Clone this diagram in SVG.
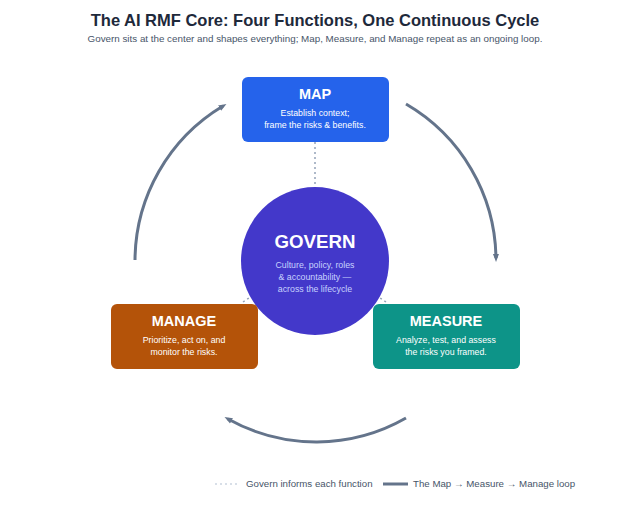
<svg xmlns="http://www.w3.org/2000/svg" width="631" height="505" viewBox="0 0 631 505">
<style>
text{font-family:"Liberation Sans",Arial,sans-serif;text-anchor:middle}
.t{font-weight:bold;font-size:14.5px;fill:#fff}
.s{font-size:8.8px;fill:#fff}
.g{font-size:8.8px;fill:#c7d2fe}
.arc{fill:none;stroke:#64748b;stroke-width:3;marker-end:url(#ah)}
.dot{stroke:#94a3b8;stroke-width:1.5;stroke-dasharray:2 3;fill:none}
</style>
<defs><marker id="ah" markerWidth="8" markerHeight="8" refX="4" refY="3" orient="auto" markerUnits="userSpaceOnUse" viewBox="0 0 8 6"><path d="M0,0L8,3L0,6z" fill="#64748b"/></marker></defs>
<rect width="631" height="505" fill="#fff"/>
<text x="315" y="26" style="font-size:16.5px;font-weight:bold;fill:#1e293b">The AI RMF Core: Four Functions, One Continuous Cycle</text>
<text x="315" y="42" style="font-size:9.8px;fill:#475569">Govern sits at the center and shapes everything; Map, Measure, and Manage repeat as an ongoing loop.</text>
<g id="connectors">
<path class="dot" d="M315,142V187"/>
<path class="dot" d="M243,302L252,296"/>
<path class="dot" d="M386,302L377,296"/>
<path class="arc" d="M406,104A181,181 0 0 1 496,258"/>
<path class="arc" d="M406,418A181,181 0 0 1 228,419"/>
<path class="arc" d="M135,260A181,181 0 0 1 223,106"/>
</g>
<g id="map"><rect x="242" y="77" width="147" height="65" rx="6" fill="#2563eb"/>
<text class="t" x="315" y="99">MAP</text>
<text class="s" x="315" y="116">Establish context;</text>
<text class="s" x="315" y="128">frame the risks &amp; benefits.</text></g>
<g id="govern"><circle cx="315" cy="261" r="74" fill="#4338ca"/>
<text class="t" x="315" y="248" style="font-size:18.7px">GOVERN</text>
<text class="g" x="315" y="268">Culture, policy, roles</text>
<text class="g" x="315" y="280">&amp; accountability —</text>
<text class="g" x="315" y="292">across the lifecycle</text></g>
<g id="manage"><rect x="111" y="304" width="147" height="65" rx="6" fill="#b45309"/>
<text class="t" x="184" y="326">MANAGE</text>
<text class="s" x="184" y="343">Prioritize, act on, and</text>
<text class="s" x="184" y="355">monitor the risks.</text></g>
<g id="measure"><rect x="373" y="304" width="147" height="65" rx="6" fill="#0d9488"/>
<text class="t" x="446" y="326">MEASURE</text>
<text class="s" x="446" y="343">Analyze, test, and assess</text>
<text class="s" x="446" y="355">the risks you framed.</text></g>
<g id="legend">
<path class="dot" d="M215,484H238" style="stroke:#cbd5e1"/>
<text x="246" y="487" style="font-size:9.7px;fill:#475569;text-anchor:start">Govern informs each function</text>
<path d="M383,484H408" stroke="#64748b" stroke-width="3"/>
<text x="413" y="487" style="font-size:9.7px;fill:#475569;text-anchor:start">The Map → Measure → Manage loop</text>
</g>
</svg>
